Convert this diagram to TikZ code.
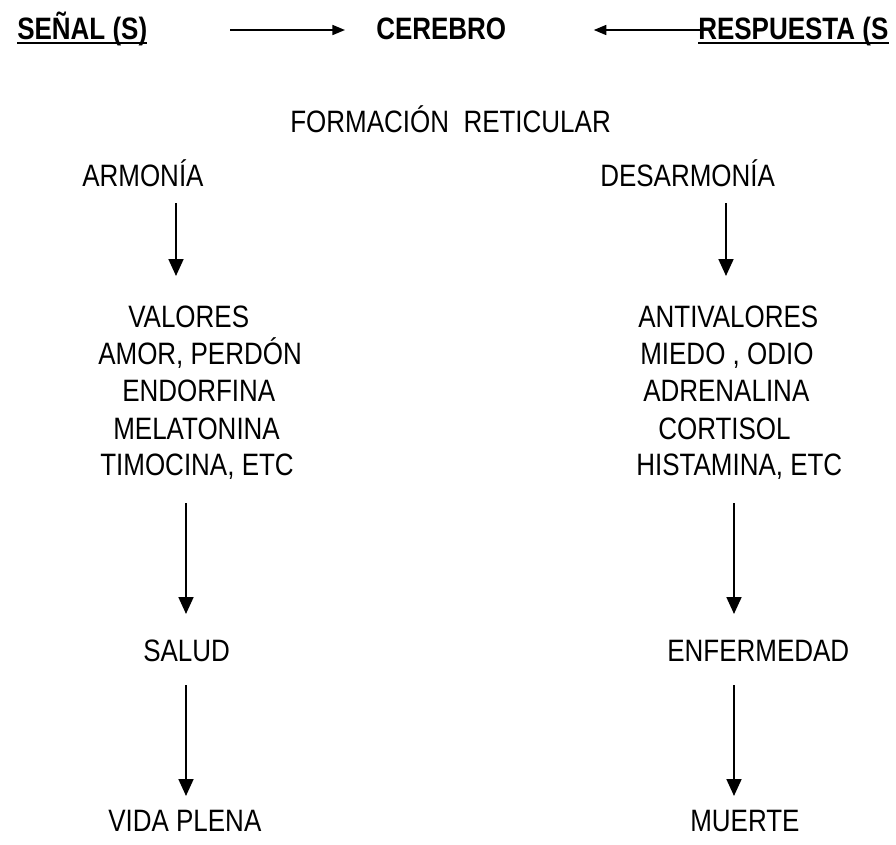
\documentclass[tikz,border=0pt]{standalone}
\usepackage{fontspec}
\setmainfont{Liberation Sans}[FakeStretch=0.84]
\usetikzlibrary{arrows.meta, positioning}

\begin{document}
\begin{tikzpicture}[x=0.025cm, y=-0.025cm, font=\fontsize{22}{26}\selectfont,
  texto/.style={inner sep=0pt, anchor=base west},
  titulo/.style={texto, font=\fontsize{22}{26}\selectfont\bfseries},
  subrayado/.style={line width=1.8pt},
  flecha/.style={line width=1.6pt, -{Triangle[width=10.5pt,length=12pt]}},
  flechita/.style={line width=1.5pt, -{Triangle[width=7pt,length=9pt]}}]
  \useasboundingbox (0,0) rectangle (896,844);

  % fila de arriba
  \node[titulo] (senal) at (17,39) {SEÑAL (S)};
  \node[titulo] (cerebro) at (376,39) {CEREBRO};
  \node[titulo] (respuesta) at (698,39) {RESPUESTA (S};
  \draw[subrayado] ([yshift=-3pt]senal.base west) -- ([yshift=-3pt]senal.base east);
  \draw[subrayado] ([yshift=-3pt]respuesta.base west) -- ([yshift=-3pt]respuesta.base east);
  \draw[flechita, shorten <=59pt, shorten >=22pt] ([yshift=6.4pt]senal.base east) -- ([yshift=6.4pt]cerebro.base west);
  \draw[flechita, shorten <=-3.5pt, shorten >=62pt] ([yshift=6.4pt]respuesta.base west) -- ([yshift=6.4pt]cerebro.base east);

  \node[texto] (formacion) at (290,132) {FORMACIÓN~ RETICULAR};
  \node[texto] (armonia) at (82,186) {ARMONÍA};
  \node[texto] (desarmonia) at (600,186) {DESARMONÍA};

  % columna izquierda
  \node[texto] (valores) at (128,327) {VALORES};
  \node[texto] (amor) at (98,364) {AMOR, PERDÓN};
  \node[texto] (endorfina) at (122,401) {ENDORFINA};
  \node[texto] (melatonina) at (113,439) {MELATONINA};
  \node[texto] (timocina) at (100,475) {TIMOCINA, ETC};
  \node[texto] (salud) at (143,661) {SALUD};
  \node[texto] (vida) at (108,831) {VIDA PLENA};

  % columna derecha
  \node[texto] (antivalores) at (638,327) {ANTIVALORES};
  \node[texto] (miedo) at (640,364) {MIEDO , ODIO};
  \node[texto] (adrenalina) at (643,401) {ADRENALINA};
  \node[texto] (cortisol) at (658,439) {CORTISOL};
  \node[texto] (histamina) at (636,475) {HISTAMINA, ETC};
  \node[texto] (enfermedad) at (667,661) {ENFERMEDAD};
  \node[texto] (muerte) at (690,831) {MUERTE};

  % puntas de las flechas
  \coordinate (izq1a) at (176,203);
  \coordinate (izq1b) at (176,276);
  \coordinate (der1a) at (726,203);
  \coordinate (der1b) at (726,276);
  \coordinate (izq2a) at (186,503);
  \coordinate (izq2b) at (186,614);
  \coordinate (der2a) at (734,503);
  \coordinate (der2b) at (734,614);
  \coordinate (izq3a) at (186,685);
  \coordinate (izq3b) at (186,796);
  \coordinate (der3a) at (734,685);
  \coordinate (der3b) at (734,796);

  \draw[flecha] (izq1a) -- (izq1b);
  \draw[flecha] (der1a) -- (der1b);
  \draw[flecha] (izq2a) -- (izq2b);
  \draw[flecha] (der2a) -- (der2b);
  \draw[flecha] (izq3a) -- (izq3b);
  \draw[flecha] (der3a) -- (der3b);
\end{tikzpicture}
\end{document}
